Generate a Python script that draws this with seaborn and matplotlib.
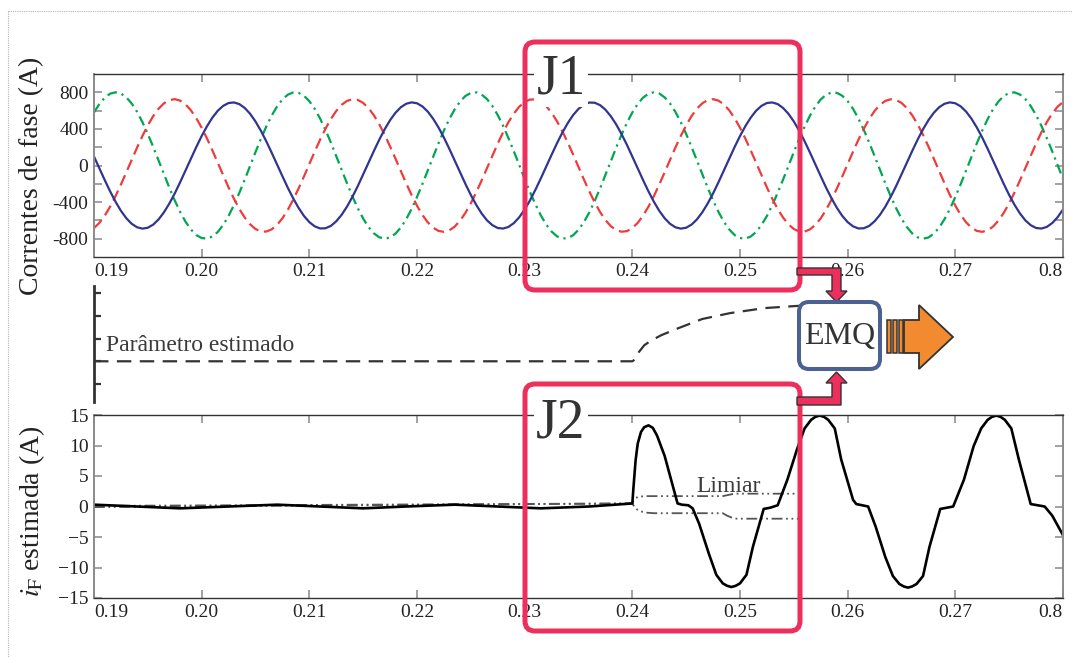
import numpy as np
import seaborn as sns
import matplotlib.pyplot as plt
from matplotlib.patches import FancyBboxPatch, Polygon

# phase currents (A), read every 0.5 ms from 0.190 s to 0.280 s
t = np.arange(380, 561) / 2000

ia = [98, -31, -160, -283, -396, -495, -576, -637, -675, -690,
      -680, -646, -589, -511, -415, -305, -183, -55, 75, 202,
      322, 430, 524, 599, 652, 683, 689, 671, 629, 565,
      481, 380, 265, 141, 12, -117, -243, -359, -463, -551,
      -619, -665, -688, -686, -660, -610, -539, -449, -343, -225,
      -98, 31, 160, 283, 396, 495, 576, 637, 675, 690,
      680, 646, 589, 511, 415, 305, 183, 55, -75, -202,
      -322, -430, -524, -599, -652, -683, -689, -671, -629, -565,
      -481, -380, -265, -141, -12, 117, 243, 359, 463, 551,
      619, 665, 688, 686, 660, 610, 539, 449, 343, 225,
      98, -31, -160, -283, -396, -495, -576, -637, -675, -690,
      -680, -646, -589, -511, -415, -305, -183, -55, 75, 202,
      322, 430, 524, 599, 652, 683, 689, 671, 629, 565,
      481, 380, 265, 141, 12, -117, -243, -359, -463, -551,
      -619, -665, -688, -686, -660, -610, -539, -449, -343, -225,
      -98, 31, 160, 283, 396, 495, 576, 637, 675, 690,
      680, 646, 589, 511, 415, 305, 183, 55, -75, -202,
      -322, -430, -524, -599, -652, -683, -689, -671, -629, -565,
      -481]
ib = [-684, -627, -548, -449, -335, -208, -75, 62, 196, 323,
      439, 540, 621, 680, 715, 725, 709, 668, 603, 517,
      413, 294, 164, 29, -107, -240, -364, -475, -569, -643,
      -694, -721, -722, -698, -649, -577, -484, -374, -251, -120,
      16, 152, 282, 402, 508, 596, 663, 706, 724, 717,
      684, 627, 548, 449, 335, 208, 75, -62, -196, -323,
      -439, -540, -621, -680, -715, -725, -709, -668, -603, -517,
      -413, -294, -164, -29, 107, 240, 364, 475, 569, 643,
      694, 721, 722, 698, 649, 577, 484, 374, 251, 120,
      -16, -152, -282, -402, -508, -596, -663, -706, -724, -717,
      -684, -627, -548, -449, -335, -208, -75, 62, 196, 323,
      439, 540, 621, 680, 715, 725, 709, 668, 603, 517,
      413, 294, 164, 29, -107, -240, -364, -475, -569, -643,
      -694, -721, -722, -698, -649, -577, -484, -374, -251, -120,
      16, 152, 282, 402, 508, 596, 663, 706, 724, 717,
      684, 627, 548, 449, 335, 208, 75, -62, -196, -323,
      -439, -540, -621, -680, -715, -725, -709, -668, -603, -517,
      -413, -294, -164, -29, 107, 240, 364, 475, 569, 643,
      694]
ic = [580, 673, 742, 785, 800, 787, 745, 678, 586, 474,
      344, 203, 54, -96, -243, -382, -507, -614, -699, -760,
      -793, -799, -776, -726, -650, -551, -432, -298, -154, -4,
      146, 291, 425, 545, 645, 722, 774, 798, 794, 762,
      703, 619, 513, 389, 251, 104, -46, -195, -337, -467,
      -580, -673, -742, -785, -800, -787, -745, -678, -586, -474,
      -344, -203, -54, 96, 243, 382, 507, 614, 699, 760,
      793, 799, 776, 726, 650, 551, 432, 298, 154, 4,
      -146, -291, -425, -545, -645, -722, -774, -798, -794, -762,
      -703, -619, -513, -389, -251, -104, 46, 195, 337, 467,
      580, 673, 742, 785, 800, 787, 745, 678, 586, 474,
      344, 203, 54, -96, -243, -382, -507, -614, -699, -760,
      -793, -799, -776, -726, -650, -551, -432, -298, -154, -4,
      146, 291, 425, 545, 645, 722, 774, 798, 794, 762,
      703, 619, 513, 389, 251, 104, -46, -195, -337, -467,
      -580, -673, -742, -785, -800, -787, -745, -678, -586, -474,
      -344, -203, -54, 96, 243, 382, 507, 614, 699, 760,
      793, 799, 776, 726, 650, 551, 432, 298, 154, 4,
      -146]

# estimated parameter (arbitrary units)
par_t = [0.1900, 0.2400, 0.2403, 0.2406, 0.2411, 0.2417, 0.2427, 0.2443,
         0.2465, 0.2491, 0.2523, 0.2552, 0.2560]
par_v = [1.0, 1.0, 1.1, 1.4, 1.7, 1.9, 2.15, 2.46, 2.86, 3.12, 3.34, 3.43, 3.45]

# estimated fault current i_F (A)
if_t = [0.1900, 0.1940, 0.1980, 0.2025, 0.2070, 0.2110, 0.2150, 0.2190, 0.2235,
        0.2275, 0.2315, 0.2360, 0.2400, 0.2401, 0.2403, 0.2405, 0.2408, 0.2411,
        0.2415, 0.2419, 0.2423, 0.2430, 0.2436, 0.2442, 0.2446, 0.2452, 0.2456,
        0.2462, 0.2471, 0.2478, 0.2484, 0.2488, 0.2492, 0.2496, 0.2500, 0.2506,
        0.2512, 0.2522, 0.2528, 0.2535, 0.2544, 0.2553, 0.2560, 0.2566, 0.2570,
        0.2574, 0.2578, 0.2582, 0.2588, 0.2594, 0.2605, 0.2608, 0.2619, 0.2626,
        0.2635, 0.2642, 0.2648, 0.2652, 0.2656, 0.2660, 0.2664, 0.2670, 0.2676,
        0.2686, 0.2698, 0.2708, 0.2717, 0.2724, 0.2730, 0.2734, 0.2738, 0.2742,
        0.2746, 0.2752, 0.2759, 0.2770, 0.2783, 0.2790, 0.2800]
if_v = [0.3, 0.0, -0.3, 0.0, 0.3, 0.0, -0.3, 0.0, 0.3,
        0.0, -0.3, 0.0, 0.5, 3.0, 7.5, 10.3, 12.2, 13.0,
        13.3, 12.9, 11.6, 8.3, 4.4, 0.5, 0.3, 0.2, -0.3,
        -2.8, -7.7, -11.2, -12.6, -13.0, -13.2, -13.0, -12.6, -11.2,
        -6.6, -0.4, -0.2, 0.2, 4.4, 9.4, 12.8, 14.2, 14.7,
        14.9, 14.7, 14.2, 12.8, 7.7, 1.1, 0.4, 0.0, -3.3,
        -8.3, -11.4, -12.7, -13.1, -13.3, -13.1, -12.7, -11.4, -6.6,
        -0.4, 0.0, 4.4, 9.9, 12.8, 14.2, 14.7, 14.9, 14.7,
        14.2, 12.8, 7.7, 0.4, 0.0, -1.5, -4.7]

# threshold (Limiar)
thr_t = [0.1900, 0.2400, 0.2401, 0.2403, 0.2406, 0.2412, 0.2420, 0.2484,
         0.2488, 0.2492, 0.2497, 0.2555]
thr_up = [0.1, 0.5, 1.0, 1.4, 1.6, 1.7, 1.7, 1.7, 1.85, 2.0, 2.1, 2.1]
thr_lo = [-0.1, 0.5, 0.2, -0.3, -0.7, -1.0, -1.1, -1.1, -1.5, -1.8, -2.0, -2.0]

xticks = [0.19, 0.20, 0.21, 0.22, 0.23, 0.24, 0.25, 0.26, 0.27, 0.28]
xlabels = ['0.19', '0.20', '0.21', '0.22', '0.23', '0.24', '0.25', '0.26', '0.27', '0.8']

sns.set_theme(style='ticks')
plt.rcParams['font.family'] = ['Liberation Serif', 'DejaVu Serif']
plt.rcParams['mathtext.fontset'] = 'stix'

W, H = 1072, 657
fig = plt.figure(figsize=(W / 100, H / 100), dpi=100)
fig.patch.set_facecolor('white')


def px_axes(left, top, right, bottom):
    return fig.add_axes([left / W, 1 - bottom / H, (right - left) / W, (bottom - top) / H])


def style_box(ax):
    for s in ['left', 'right']:
        ax.spines[s].set_color('#8a8a8a')
        ax.spines[s].set_linewidth(1.4)
    for s in ['top', 'bottom']:
        ax.spines[s].set_color('#333333')
        ax.spines[s].set_linewidth(1.0)
    ax.tick_params(direction='in', length=6, width=1.3, color='#9a9a9a',
                   top=True, right=True, bottom=True, left=True,
                   labelsize=14, labelcolor='#222222', pad=4)
    ax.set_xlim(0.19, 0.28)
    ax.set_xticks(xticks)
    ax.set_xticklabels(xlabels)
    labs = ax.get_xticklabels()
    labs[0].set_ha('left')
    labs[-1].set_ha('right')
    ax.set_xlabel('')
    ax.set_ylabel('')


# top: phase currents
ax1 = px_axes(94, 74, 1063, 257)
sns.lineplot(x=t, y=ic, ax=ax1, color='#00a651', linewidth=1.6, linestyle=(0, (4.5, 2.2, 1, 2.2)), sort=False)
sns.lineplot(x=t, y=ib, ax=ax1, color='#ee3b3b', linewidth=1.6, linestyle=(0, (5, 2.6)), sort=False)
sns.lineplot(x=t, y=ia, ax=ax1, color='#32358f', linewidth=1.6, sort=False)
ax1.set_ylim(-1000, 1000)
style_box(ax1)
ax1.set_yticks([-800, -600, -400, -200, 0, 200, 400, 600, 800])
ax1.set_yticklabels(['-800', '', '-400', '', '0', '', '400', '', '800'])

# middle: estimated parameter
ax2 = px_axes(94, 286, 1063, 402)
sns.lineplot(x=par_t, y=par_v, ax=ax2, color='#333333', linewidth=1.6, linestyle=(0, (6.5, 3.8)), sort=False)
ax2.set_xlim(0.19, 0.28)
ax2.set_ylim(-0.79, 4.31)
ax2.patch.set_alpha(0)
for s in ['top', 'right', 'bottom']:
    ax2.spines[s].set_visible(False)
ax2.spines['left'].set_color('#333333')
ax2.spines['left'].set_linewidth(2.0)
ax2.set_xticks([])
ax2.set_yticks([0, 1, 2, 3, 4])
ax2.set_yticklabels([])
ax2.tick_params(axis='y', direction='in', length=5, width=1.6, color='#333333')
ax2.set_xlabel('')
ax2.set_ylabel('')

# bottom: estimated fault current
ax3 = px_axes(94, 415, 1063, 598)
sns.lineplot(x=thr_t, y=thr_up, ax=ax3, color='#555555', linewidth=1.3, linestyle=(0, (6, 2, 1, 2, 1, 2)), sort=False)
sns.lineplot(x=thr_t, y=thr_lo, ax=ax3, color='#555555', linewidth=1.3, linestyle=(0, (6, 2, 1, 2, 1, 2)), sort=False)
sns.lineplot(x=if_t, y=if_v, ax=ax3, color='black', linewidth=1.9, sort=False)
ax3.set_ylim(-15, 15)
style_box(ax3)
ax3.set_yticks([-15, -10, -5, 0, 5, 10, 15])

# overlay in pixel coordinates for the diagram parts
ov = fig.add_axes([0, 0, 1, 1], zorder=10)
ov.set_xlim(0, W)
ov.set_ylim(H, 0)
ov.axis('off')
ov.patch.set_alpha(0)

red = '#ec2f5d'
ov.plot([8, W], [11, 11], color='#b5b5b5', lw=0.8, linestyle=(0, (1, 1)))
ov.plot([8, 8], [11, H], color='#b5b5b5', lw=0.8, linestyle=(0, (1, 1)))

ov.text(32, 176, 'Correntes de fase (A)', rotation=90, ha='center', va='center',
        fontsize=20, color='#222222')
ov.text(32, 511, r'$i_{\mathrm{F}}$ estimada (A)', rotation=90, ha='center', va='center',
        fontsize=20, color='#222222')
ov.text(106, 351, 'Parâmetro estimado', ha='left', va='baseline', fontsize=17, color='#3a3a3a')
ov.text(729, 492, 'Limiar', ha='center', va='baseline', fontsize=17, color='#3a3a3a')

for top, bot in [(42, 290), (384, 631)]:
    ov.add_patch(FancyBboxPatch((525, top), 275, bot - top,
                                boxstyle='round,pad=0,rounding_size=10',
                                fill=False, edgecolor=red, linewidth=3.6))

ov.text(561, 93, 'J1', ha='center', va='baseline', fontsize=40, color='#333333',
        bbox=dict(facecolor='white', edgecolor='none', pad=1.5))
ov.text(561, 437, 'J2', ha='center', va='baseline', fontsize=40, color='#333333',
        bbox=dict(facecolor='white', edgecolor='none', pad=1.5))

# connectors to the EMQ block
ov.add_patch(Polygon([(797, 268), (841, 268), (841, 291), (847, 291), (836.5, 302),
                      (826, 291), (832, 291), (832, 275), (797, 275)],
                     closed=True, facecolor=red, edgecolor='#333333', lw=1.0))
ov.add_patch(Polygon([(797, 405), (841, 405), (841, 383), (847, 383), (836.5, 372),
                      (826, 383), (832, 383), (832, 397), (797, 397)],
                     closed=True, facecolor=red, edgecolor='#333333', lw=1.0))

ov.add_patch(FancyBboxPatch((799, 302), 81, 67, boxstyle='round,pad=0,rounding_size=10',
                            facecolor='white', edgecolor='#4c6191', linewidth=2.9))
ov.text(840, 344, 'EMQ', ha='center', va='baseline', fontsize=23, color='#333333')

orange = '#f28a30'
for x0, x1 in [(887, 891), (893, 897), (899, 903)]:
    ov.add_patch(Polygon([(x0, 320), (x1, 320), (x1, 353), (x0, 353)], closed=True,
                         facecolor=orange, edgecolor='#333333', lw=1.1))
ov.add_patch(Polygon([(904, 320), (919, 320), (919, 305), (953, 337), (919, 369),
                      (919, 353), (904, 353)], closed=True,
                     facecolor=orange, edgecolor='#333333', lw=1.3))

fig.savefig('out.png', dpi=100)
